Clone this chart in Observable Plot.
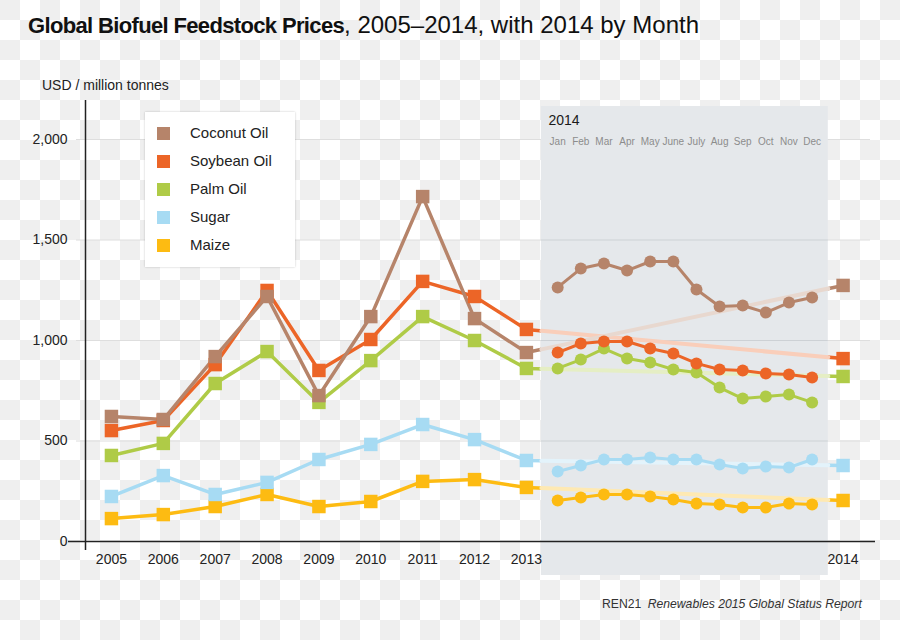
<!DOCTYPE html>
<html>
<head>
<meta charset="utf-8">
<script src="https://cdn.jsdelivr.net/npm/d3@7"></script>
<script src="https://cdn.jsdelivr.net/npm/@observablehq/plot@0.6"></script>
<style>
  html, body { margin: 0; padding: 0; }
  body {
    width: 900px; height: 640px; position: relative; overflow: hidden;
    background: repeating-conic-gradient(#ffffff 0% 25%, #efefef 0% 50%) 0 0 / 40px 40px;
    font-family: "Liberation Sans", Arial, sans-serif;
    color: #1a1a1a;
  }
  #chart { position: absolute; left: 0; top: 0; }
  #title { position: absolute; left: 28px; top: 13px; font-size: 24px; line-height: 24px; white-space: nowrap; color: #111; }
  #title b { font-weight: bold; font-size: 22px; letter-spacing: -0.65px; }
  #unit { position: absolute; left: 42px; top: 78px; font-size: 14px; line-height: 14px; white-space: nowrap; color: #222; }
  #caption { position: absolute; left: 602px; top: 598px; font-size: 12.2px; line-height: 12.5px; white-space: nowrap; color: #333; }
  #caption i { margin-left: 3px; }
  #legend { position: absolute; left: 145px; top: 112px; width: 150px; height: 155px; background: #fff;
            box-shadow: 0 0 2px rgba(0,0,0,0.22); }
  .item { position: absolute; left: 0; height: 16px; font-size: 15px; line-height: 16px; white-space: nowrap; color: #222; }
  .sw { position: absolute; left: 12px; top: 1.5px; width: 13px; height: 13px; }
  .lab { position: absolute; left: 45px; top: 0; }
</style>
</head>
<body>
<div id="chart"></div>
<div id="title"><b>Global Biofuel Feedstock Prices</b>, 2005–2014, with 2014 by Month</div>
<div id="unit">USD / million tonnes</div>
<div id="legend"></div>
<div id="caption">REN21 <i>Renewables 2015 Global Status Report</i></div>
<script>
// ---------------- data ----------------
const years = [2005, 2006, 2007, 2008, 2009, 2010, 2011, 2012, 2013];
const annualLabel2014 = "2014";
const months = ["Jan", "Feb", "Mar", "Apr", "May", "June", "July", "Aug", "Sep", "Oct", "Nov", "Dec"];
const seriesNames = ["Coconut Oil", "Soybean Oil", "Palm Oil", "Sugar", "Maize"];
const seriesColors = ["#b6846a", "#ec6527", "#afcb47", "#a7dbf3", "#fdbb12"];
const yTicks = [0, 500, 1000, 1500, 2000];

const coconutAnnual = [622, 607, 920, 1219, 726, 1119, 1716, 1109, 940];
const coconut2014 = 1274;
const coconutMonthly = [1264, 1358, 1383, 1348, 1393, 1393, 1254, 1169, 1174, 1139, 1189, 1214];

const soybeanAnnual = [552, 602, 880, 1249, 851, 1005, 1294, 1219, 1055];
const soybean2014 = 910;
const soybeanMonthly = [940, 985, 995, 995, 960, 935, 886, 856, 851, 836, 831, 816];

const palmAnnual = [428, 488, 786, 945, 692, 900, 1119, 1000, 861];
const palm2014 = 821;
const palmMonthly = [861, 905, 960, 910, 891, 856, 841, 766, 711, 721, 731, 692];

const sugarAnnual = [224, 328, 234, 294, 408, 483, 582, 507, 403];
const sugar2014 = 378;
const sugarMonthly = [348, 378, 408, 408, 418, 408, 408, 383, 363, 373, 368, 408];

const maizeAnnual = [114, 134, 174, 234, 174, 199, 299, 308, 269];
const maize2014 = 204;
const maizeMonthly = [204, 219, 234, 234, 224, 209, 189, 184, 169, 169, 189, 184];

// ---------------- layout (slot units on the x axis) ----------------
const AXIS_POS = -0.5;
const END_POS = 14.73;
const MONTH0 = 8.603, MONTH_STEP = 0.4459;
const POS2014 = 14.105;
const PANEL = [8.289, 13.82];

const series = [
  {name: "Coconut Oil", annual: coconutAnnual, y2014: coconut2014, monthly: coconutMonthly},
  {name: "Soybean Oil", annual: soybeanAnnual, y2014: soybean2014, monthly: soybeanMonthly},
  {name: "Palm Oil", annual: palmAnnual, y2014: palm2014, monthly: palmMonthly},
  {name: "Sugar", annual: sugarAnnual, y2014: sugar2014, monthly: sugarMonthly},
  {name: "Maize", annual: maizeAnnual, y2014: maize2014, monthly: maizeMonthly}
];
const colorOf = name => seriesColors[seriesNames.indexOf(name)];
const drawOrder = series.slice().reverse(); // coconut drawn last (on top)

const annualRows = [];
const monthlyRows = [];
for (const s of drawOrder) {
  s.annual.forEach((v, i) => annualRows.push({series: s.name, pos: i, value: v}));
  annualRows.push({series: s.name, pos: POS2014, value: s.y2014});
  s.monthly.forEach((v, m) => monthlyRows.push({series: s.name, pos: MONTH0 + m * MONTH_STEP, value: v}));
}
// faint connector inside the 2014 panel (between the 2013 and 2014 annual values)
const paleMarks = drawOrder.map(s => {
  const v13 = s.annual[s.annual.length - 1];
  const last = years.length - 1;
  const lerp = p => v13 + (s.y2014 - v13) * (p - last) / (POS2014 - last);
  const rows = PANEL.map(p => ({pos: p, value: lerp(p)}));
  return Plot.line(rows, {x: "pos", y: "value", stroke: d3.interpolateRgb(colorOf(s.name), "#ffffff")(0.68), strokeWidth: 4});
});

const xLabels = years.map((y, i) => ({pos: i, label: String(y)})).concat([{pos: POS2014, label: annualLabel2014}]);
const monthLabels = months.map((m, i) => ({pos: MONTH0 + i * MONTH_STEP, label: m}));

const chart = Plot.plot({
  width: 900, height: 640,
  marginLeft: 85, marginRight: 25, marginTop: 100, marginBottom: 99,
  x: {domain: [AXIS_POS, END_POS], range: [85, 875], axis: null},
  y: {domain: [0, 2000], range: [541, 139], axis: null},
  color: {domain: seriesNames, range: seriesColors},
  style: {background: "transparent", fontFamily: "'Liberation Sans', Arial, sans-serif", overflow: "visible"},
  marks: [
    Plot.ruleY(yTicks.filter(d => d > 0), {stroke: "#dedede", strokeWidth: 1, insetLeft: -9, insetRight: 5}),
    Plot.line(annualRows, {x: "pos", y: "value", z: "series", stroke: "series", strokeWidth: 3.5}),
    Plot.dot(annualRows, {x: "pos", y: "value", fill: "series", symbol: "square", r: 7.6}),
    Plot.rect([PANEL], {x1: d => d[0], x2: d => d[1], fill: "#e5e8eb", insetTop: 6, insetBottom: -34}),
    Plot.ruleY(yTicks.filter(d => d > 0 && d < 2000), {x1: () => PANEL[0], x2: () => PANEL[1], stroke: "#cdd1d5", strokeWidth: 1.2}),
    ...paleMarks,
    Plot.text([{pos: PANEL[0], label: annualLabel2014}], {x: "pos", text: "label", frameAnchor: "top", lineAnchor: "middle", dy: 20, dx: 7, textAnchor: "start", fontSize: 14, fill: "#1a1a1a"}),
    Plot.text(monthLabels, {x: "pos", text: "label", frameAnchor: "top", lineAnchor: "middle", dy: 41, fontSize: 10, fill: "#8c8c8c"}),
    Plot.line(monthlyRows, {x: "pos", y: "value", z: "series", stroke: "series", strokeWidth: 3}),
    Plot.dot(monthlyRows, {x: "pos", y: "value", fill: "series", r: 6}),
    Plot.ruleY([0], {stroke: "#222", strokeWidth: 1.5, insetLeft: -17}),
    Plot.ruleX([AXIS_POS], {stroke: "#222", strokeWidth: 1.5, insetBottom: -9}),
    Plot.text(yTicks, {y: d => d, text: d => d3.format(",")(d), frameAnchor: "left", textAnchor: "end", dx: -18, fontSize: 14, fill: "#222"}),
    Plot.text(xLabels, {x: "pos", text: "label", frameAnchor: "bottom", lineAnchor: "middle", dy: 18, fontSize: 14, fill: "#222"})
  ]
});
document.getElementById("chart").appendChild(chart);

// legend
const legend = document.getElementById("legend");
seriesNames.forEach((name, i) => {
  const item = document.createElement("div");
  item.className = "item";
  item.style.top = (13 + 28 * i) + "px";
  item.style.width = "150px";
  item.innerHTML = `<span class="sw" style="background:${seriesColors[i]}"></span><span class="lab">${name}</span>`;
  legend.appendChild(item);
});
</script>
</body>
</html>
